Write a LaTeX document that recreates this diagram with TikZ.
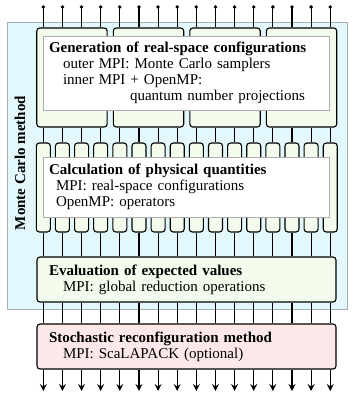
\documentclass[tikz,border=0pt]{standalone}
\usepackage{fontspec}
\setmainfont{Liberation Serif}
\usetikzlibrary{arrows.meta, positioning}
\definecolor{mcblue}{HTML}{E3F8FD}
\definecolor{mcedge}{HTML}{A3ADB2}
\definecolor{stagegreen}{HTML}{F3FBEC}
\definecolor{srpink}{HTML}{FCE8E8}

\begin{document}
\begin{tikzpicture}[
    x=1pt, y=-1pt,
    font=\fontsize{15}{16}\selectfont,
    mcbg/.style={rectangle, draw=mcedge, fill=mcblue, line width=0.8pt,
                 minimum width=340pt, minimum height=287pt, anchor=north west},
    stage/.style={rectangle, draw=black, fill=stagegreen, rounded corners=3pt, line width=1.1pt,
                  minimum width=70.4pt, minimum height=99pt, inner sep=0pt},
    lane/.style={rectangle, draw=black, fill=stagegreen, rounded corners=3pt, line width=1.1pt,
                 minimum width=14pt, minimum height=89pt, inner sep=0pt},
    note/.style={rectangle, draw=gray!65, fill=white, line width=0.8pt, align=left,
                 text width=274pt, inner xsep=6pt, inner ysep=0pt},
    wide/.style={rectangle, draw=black, rounded corners=3pt, line width=1.1pt, align=left,
                 text width=275pt, inner xsep=12pt, minimum height=45pt, inner ysep=0pt},
    wire/.style={draw=black, line width=1.1pt},
    arr/.style={-{Stealth[length=7pt, width=7pt, inset=2.5pt]}, line width=1.1pt}
]
\useasboundingbox (0,0) rectangle (354,402);

% Monte Carlo region
\node[mcbg] (mc) at (7,22) {};
\node[rotate=90, font=\fontsize{15}{16}\selectfont\bfseries] (mclabel) at (20,163) {Monte Carlo method};

% generation of configurations
\foreach \j in {0,...,3}
  \node[stage] (gen\j) at ({43.3+19.13*(4*\j+1.5)},77.5) {};
\node[note, minimum height=74pt] (gentext) at (186,73)
  {\mbox{\textbf{Generation of real-space configurations}}\\
   \hspace*{14pt}outer MPI: Monte Carlo samplers\\
   \hspace*{14pt}inner MPI + OpenMP:\\
   \hspace*{81pt}quantum number projections};

% physical quantities
\foreach \i in {0,...,15}
  \node[lane] (calc\i) at ({43.3+19.13*\i},187.5) {};
\node[note, minimum height=60pt] (calctext) at (186,187)
  {\textbf{Calculation of physical quantities}\\
   \hspace*{7pt}MPI: real-space configurations\\
   \hspace*{7pt}OpenMP: operators};

\node[wide, fill=stagegreen] (eval) at (186.5,279.5)
  {\textbf{Evaluation of expected values}\\
   \hspace*{14pt}MPI: global reduction operations};
\node[wide, fill=srpink] (sr) at (186.5,346.5)
  {\textbf{Stochastic reconfiguration method}\\
   \hspace*{14pt}MPI: ScaLAPACK (optional)};

% processes
\foreach \i in {0,...,15} {
  \pgfmathtruncatemacro{\j}{int(\i/4)}
  \coordinate (in\i) at ({43.3+19.13*\i},7);
  \coordinate (out\i) at ({43.3+19.13*\i},391);
  \fill (in\i) circle (1.9pt);
  \draw[wire] (in\i) -- (in\i |- gen\j.north);
  \draw[wire] (calc\i.north |- gen\j.south) -- (calc\i.north);
  \draw[wire] (calc\i.south) -- (calc\i.south |- eval.north);
  \draw[wire] (calc\i.south |- eval.south) -- (calc\i.south |- sr.north);
  \draw[arr] (out\i |- sr.south) -- (out\i);
}
\end{tikzpicture}
\end{document}
